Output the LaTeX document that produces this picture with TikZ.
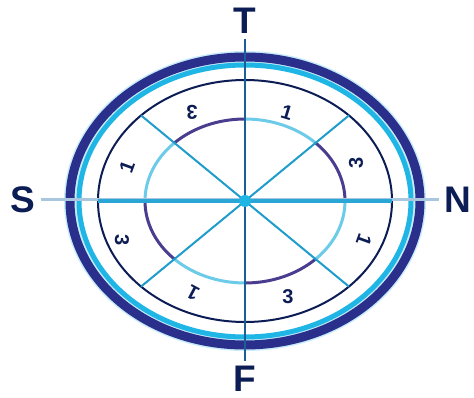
\documentclass[tikz,border=0pt]{standalone}
\usepackage{fontspec}
\setmainfont{Liberation Sans}
\usepackage{xcolor}
\definecolor{ringnavy}{HTML}{2A2F8C}
\definecolor{ringcyan}{HTML}{1FB5E5}
\definecolor{inkblue}{HTML}{0C1D55}
\definecolor{arcpurple}{HTML}{4A3D8F}
\definecolor{arccyan}{HTML}{6CCBE8}
\definecolor{axisblue}{HTML}{1C5E96}
\definecolor{diagcyan}{HTML}{1E9CCB}
\definecolor{barcyan}{HTML}{2AA6D6}
\definecolor{faintblue}{HTML}{A8C6DE}
\usetikzlibrary{positioning}

\begin{document}
\begin{tikzpicture}[x=1pt, y=1pt,
    pole/.style={font=\fontsize{37}{40}\selectfont\bfseries, text=inkblue, inner sep=5pt},
    glyph/.style={font=\fontsize{20}{21}\selectfont\bfseries, text=inkblue, inner sep=0pt},
    axis/.style={line width=2.4pt, draw=axisblue},
    diag/.style={line width=2pt, draw=diagcyan},
    band/.style={line width=3pt},
]
    \useasboundingbox (-245,-197) rectangle (229,201);

    % Outer rings
    \draw[ringcyan!25, line width=14pt] (0,0) ellipse[x radius=174pt, y radius=143pt];
    \draw[ringnavy, line width=9pt] (0,0) ellipse[x radius=175pt, y radius=144pt];
    \draw[ringcyan, line width=5pt] (0,0) ellipse[x radius=166pt, y radius=136pt];

    % Middle and inner rings
    \draw[inkblue, line width=2pt] (0,0) ellipse[x radius=147pt, y radius=121pt];
    \foreach \a in {0,90,180,270} {
        \draw[band, arcpurple] (\a:100pt and 82pt) arc[start angle=\a, delta angle=45, x radius=100pt, y radius=82pt];
        \draw[band, arccyan] (\a+45:100pt and 82pt) arc[start angle=\a+45, delta angle=45, x radius=100pt, y radius=82pt];
    }
    \foreach \a in {0,45,135,180,225,315}
        \coordinate (m\a) at (\a:147pt and 121pt);

    % Poles
    \node[pole] (T) at (0,180) {T};
    \node[pole] (F) at (0,-178) {F};
    \node[pole] (S) at (-222,1) {S};
    \node[pole] (N) at (213,1) {N};

    % Axes
    \draw[faintblue, line width=3pt] (S) -- (N);
    \draw[barcyan, line width=4.5pt] (m180) -- (m0);
    \draw[axis] (T) -- (F);
    \draw[diag] (m135) -- (m315);
    \draw[diag] (m45) -- (m225);
    \fill[ringcyan] (0,0) circle (6pt);

    % Ring glyphs
    \node[glyph, rotate=180] (g1) at (-53,89) {3};
    \node[glyph, rotate=-17] (g2) at (42,88) {1};
    \node[glyph, rotate=90] (g3) at (111,38) {3};
    \node[glyph, rotate=-110] (g4) at (119,-39) {1};
    \node[glyph] (g5) at (43,-96) {3};
    \node[glyph, rotate=152] (g6) at (-52,-92) {1};
    \node[glyph, rotate=-90] (g7) at (-123,-39) {3};
    \node[glyph, rotate=70] (g8) at (-118,34) {1};
\end{tikzpicture}
\end{document}
